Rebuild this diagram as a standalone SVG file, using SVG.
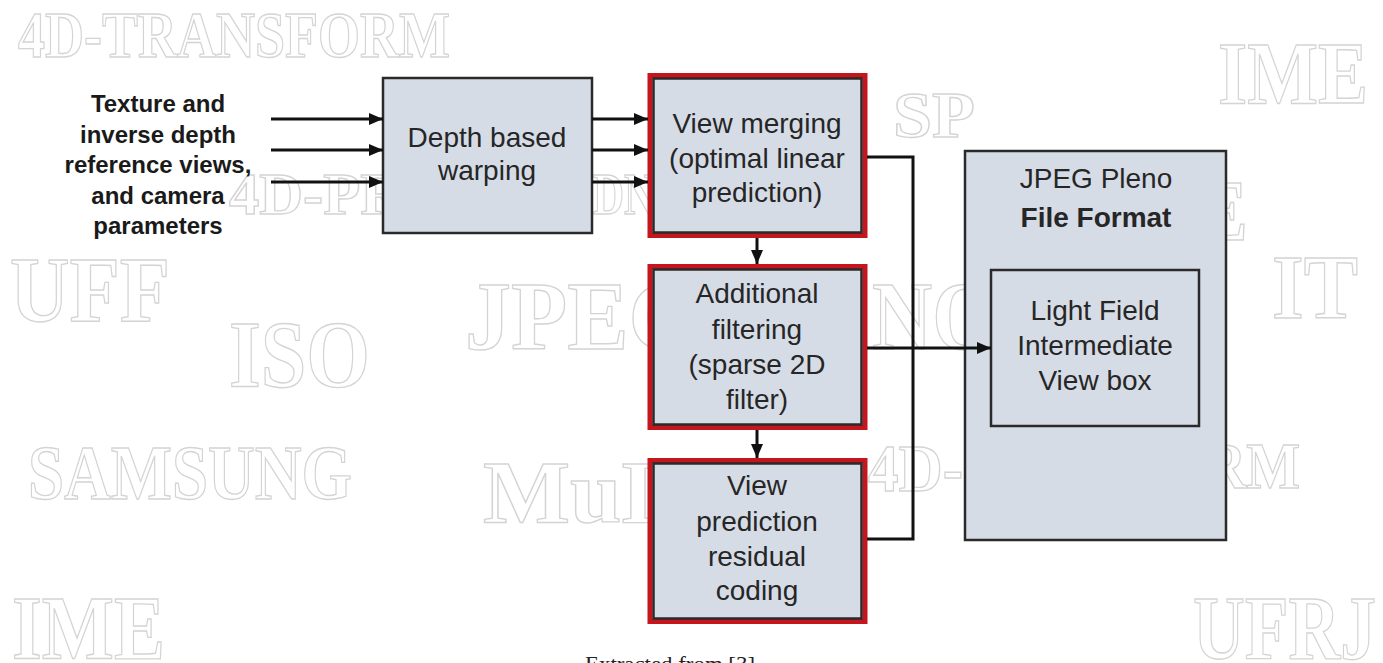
<svg xmlns="http://www.w3.org/2000/svg" width="1383" height="663" viewBox="0 0 1383 663">
<defs>
<marker id="ah" markerUnits="userSpaceOnUse" markerWidth="14" markerHeight="12" refX="14" refY="6" orient="auto">
<path d="M0,0 L14,6 L0,12 z" fill="#111"/>
</marker>
<style>
.wm{font-family:"Liberation Serif","DejaVu Serif",serif;font-weight:bold;fill:#ffffff;stroke:#d4d4d4;stroke-width:1.4}
.box{fill:#d6dce6;stroke:#2a2a2a;stroke-width:2.5}
.red{fill:none;stroke:#c4161c;stroke-width:5}
.t{font-family:"Liberation Sans",Arial,sans-serif;font-size:28px;fill:#262626;text-anchor:middle}
.in{font-family:"Liberation Sans",Arial,sans-serif;font-size:24px;font-weight:bold;fill:#1a1a1a;text-anchor:middle}
.ln{fill:none;stroke:#111;stroke-width:3}
.cap{font-family:"Liberation Serif","Times New Roman",serif;font-size:22px;fill:#222}
</style>
</defs>
<rect width="1383" height="663" fill="#ffffff"/>
<g id="watermarks">
<text class="wm" x="18" y="57" font-size="66" textLength="432" lengthAdjust="spacingAndGlyphs">4D-TRANSFORM</text>
<text class="wm" x="1218" y="103" font-size="88" textLength="150" lengthAdjust="spacingAndGlyphs">IME</text>
<text class="wm" x="893" y="137" font-size="66" textLength="82" lengthAdjust="spacingAndGlyphs">SP</text>
<text class="wm" x="229" y="214" font-size="59" textLength="175" lengthAdjust="spacingAndGlyphs">4D-PR</text>
<text class="wm" x="593" y="214" font-size="59" textLength="62" lengthAdjust="spacingAndGlyphs">DN</text>
<text class="wm" x="10" y="321" font-size="94" textLength="160" lengthAdjust="spacingAndGlyphs">UFF</text>
<text class="wm" x="229" y="387" font-size="96" textLength="141" lengthAdjust="spacingAndGlyphs">ISO</text>
<text class="wm" x="28" y="499" font-size="78" textLength="324" lengthAdjust="spacingAndGlyphs">SAMSUNG</text>
<text class="wm" x="465" y="349" font-size="98" textLength="235" lengthAdjust="spacingAndGlyphs">JPEG</text>
<text class="wm" x="872" y="349" font-size="98" textLength="125" lengthAdjust="spacingAndGlyphs">NO</text>
<text class="wm" x="483" y="522" font-size="88" textLength="200" lengthAdjust="spacingAndGlyphs">MuL</text>
<text class="wm" x="868" y="491" font-size="68" textLength="95" lengthAdjust="spacingAndGlyphs">4D-</text>
<text class="wm" x="1205" y="488" font-size="66" textLength="95" lengthAdjust="spacingAndGlyphs">RM</text>
<text class="wm" x="1196" y="240" font-size="86" textLength="52" lengthAdjust="spacingAndGlyphs">E</text>
<text class="wm" x="1272" y="318" font-size="92" textLength="86" lengthAdjust="spacingAndGlyphs">IT</text>
<text class="wm" x="12" y="659" font-size="90" textLength="153" lengthAdjust="spacingAndGlyphs">IME</text>
<text class="wm" x="1193" y="659" font-size="90" textLength="183" lengthAdjust="spacingAndGlyphs">UFRJ</text>
</g>
<g id="input-label">
<text class="in" x="158" y="112">Texture and</text>
<text class="in" x="158" y="142.5">inverse depth</text>
<text class="in" x="158" y="173">reference views,</text>
<text class="in" x="158" y="203.5">and camera</text>
<text class="in" x="158" y="234">parameters</text>
</g>
<g id="depth-warping">
<rect class="box" x="383" y="78" width="209" height="155"/>
<text class="t" x="487" y="147">Depth based</text>
<text class="t" x="487" y="180">warping</text>
</g>
<g id="view-merging">
<rect class="red" x="650" y="75.5" width="215" height="160"/>
<rect class="box" x="653.5" y="78.5" width="208" height="154"/>
<text class="t" x="757" y="133">View merging</text>
<text class="t" x="757" y="167.5">(optimal linear</text>
<text class="t" x="757" y="202">prediction)</text>
</g>
<g id="additional-filtering">
<rect class="red" x="650" y="266.5" width="215" height="161"/>
<rect class="box" x="653.5" y="269.5" width="208" height="155"/>
<text class="t" x="757" y="303">Additional</text>
<text class="t" x="757" y="339">filtering</text>
<text class="t" x="757" y="374">(sparse 2D</text>
<text class="t" x="757" y="409">filter)</text>
</g>
<g id="residual-coding">
<rect class="red" x="650" y="460.5" width="215" height="161"/>
<rect class="box" x="653.5" y="463.5" width="208" height="155"/>
<text class="t" x="757" y="495">View</text>
<text class="t" x="757" y="531">prediction</text>
<text class="t" x="757" y="566">residual</text>
<text class="t" x="757" y="600">coding</text>
</g>
<g id="file-format">
<rect class="box" x="965" y="151" width="261" height="389"/>
<text class="t" x="1096" y="188" font-size="32">JPEG Pleno</text>
<text class="t" x="1096" y="227" font-size="32" font-weight="bold" fill="#111">File Format</text>
</g>
<g id="lf-intermediate-view-box">
<rect class="box" x="991" y="270" width="208" height="156"/>
<text class="t" x="1095" y="320">Light Field</text>
<text class="t" x="1095" y="355">Intermediate</text>
<text class="t" x="1095" y="390">View box</text>
</g>
<g id="connectors">
<line class="ln" x1="271" y1="119" x2="383" y2="119" marker-end="url(#ah)"/>
<line class="ln" x1="271" y1="150" x2="383" y2="150" marker-end="url(#ah)"/>
<line class="ln" x1="271" y1="182" x2="383" y2="182" marker-end="url(#ah)"/>
<line class="ln" x1="592" y1="119" x2="648" y2="119" marker-end="url(#ah)"/>
<line class="ln" x1="592" y1="150" x2="648" y2="150" marker-end="url(#ah)"/>
<line class="ln" x1="592" y1="182" x2="648" y2="182" marker-end="url(#ah)"/>
<line class="ln" x1="757" y1="238" x2="757" y2="264" marker-end="url(#ah)"/>
<line class="ln" x1="757" y1="430" x2="757" y2="458" marker-end="url(#ah)"/>
<path class="ln" d="M867,157 H913 V539 H867"/>
<line class="ln" x1="867" y1="348" x2="991" y2="348" marker-end="url(#ah)"/>
</g>
<text class="cap" x="585" y="671" textLength="170" lengthAdjust="spacingAndGlyphs">Extracted from [3]</text>
</svg>
